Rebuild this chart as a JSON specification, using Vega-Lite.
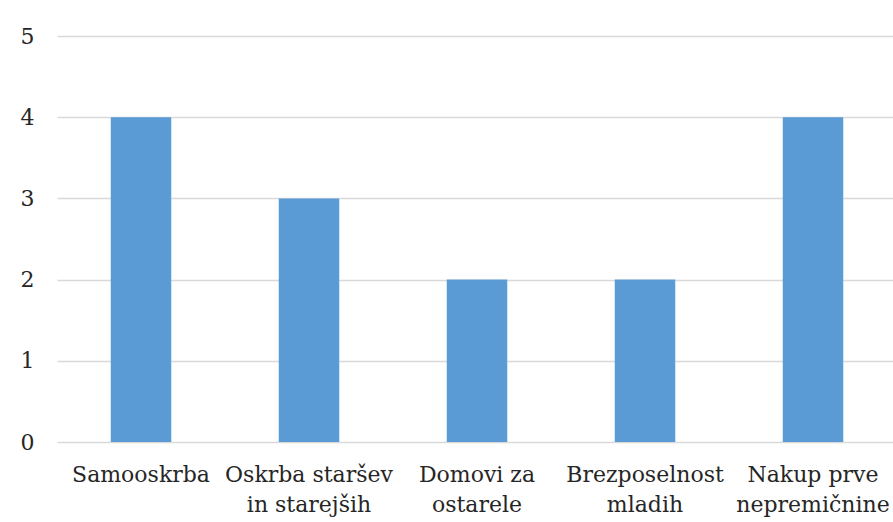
{
  "$schema": "https://vega.github.io/schema/vega-lite/v6.json",
  "width": 840,
  "height": 406,
  "autosize": "none",
  "padding": {"left": 57, "top": 36, "right": 0, "bottom": 80},
  "background": "white",
  "config": {"view": {"stroke": null}},
  "data": {"values": [
    {"category": "Samooskrba", "value": 4},
    {"category": "Oskrba staršev|in starejših", "value": 3},
    {"category": "Domovi za|ostarele", "value": 2},
    {"category": "Brezposelnost|mladih", "value": 2},
    {"category": "Nakup prve|nepremičnine", "value": 4}
  ]},
  "mark": {"type": "bar", "color": "#5b9bd5"},
  "encoding": {
    "x": {
      "field": "category", "type": "nominal", "sort": null,
      "scale": {"paddingInner": 0.64, "paddingOuter": 0.32},
      "axis": {
        "title": null, "domain": false, "ticks": false, "labelAngle": 0,
        "labelExpr": "split(datum.value, '|')",
        "labelFont": "DejaVu Serif", "labelFontSize": 22, "labelColor": "#262626",
        "labelPadding": 22, "labelLineHeight": 30, "labelBaseline": "top", "labelLimit": 300,
        "labelOverlap": false
      }
    },
    "y": {
      "field": "value", "type": "quantitative",
      "scale": {"domain": [0, 5]},
      "axis": {
        "title": null, "domain": false, "ticks": false, "values": [0,1,2,3,4,5],
        "labelOverlap": false,
        "grid": true, "gridColor": "#d9d9d9", "gridWidth": 1.5,
        "labelFont": "DejaVu Serif", "labelFontSize": 22, "labelColor": "#262626",
        "labelPadding": 23
      }
    }
  }
}
